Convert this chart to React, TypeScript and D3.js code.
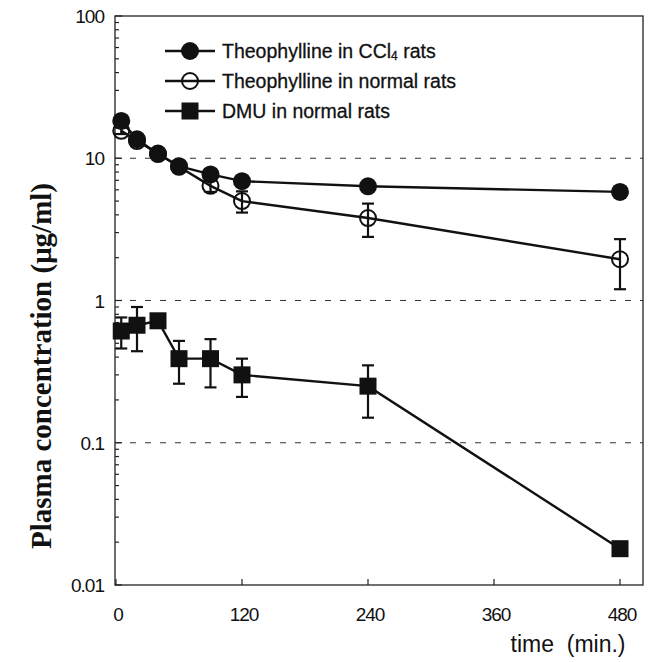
import React, { useEffect, useRef } from 'react';
import * as d3 from 'd3';

// sampling times (min)
const times = [5, 20, 40, 60, 90, 120, 240, 480];

// plasma concentrations (ug/ml)
const theoCCl4 = [18.3, 13.6, 10.7, 8.8, 7.7, 6.9, 6.35, 5.8];
const theoNormal = [15.6, 13.2, 10.8, 8.7, 6.4, 5.0, 3.8, 1.95];
const theoNormalSd = [0.8, 0.6, 0.5, 0.5, 0.6, 0.85, 1.0, 0.75];
const dmuNormal = [0.61, 0.67, 0.72, 0.39, 0.39, 0.3, 0.25, 0.018];
const dmuNormalSd = [0.15, 0.23, 0.05, 0.13, 0.145, 0.09, 0.1, 0.001];

const xTicks = [0, 120, 240, 360, 480];
const yTicks = [0.01, 0.1, 1, 10, 100];
const yTickLabels = ['0.01', '0.1', '1', '10', '100'];
const gridValues = [0.1, 1, 10];

const legendLabels = ['Theophylline in CCl', 'Theophylline in normal rats', 'DMU in normal rats'];

const W = 651;
const H = 662;
const SANS = '"Liberation Sans", Arial, sans-serif';
const SERIF = '"Liberation Serif", "Times New Roman", serif';

const PKChart = () => {
  const svgRef = useRef<SVGSVGElement | null>(null);

  useEffect(() => {
    const svg = d3.select(svgRef.current);
    svg.selectAll('*').remove();

    const left = 115;
    const right = 643;
    const x = d3.scaleLinear().domain([0, 480]).range([116, 620]);
    const y = d3.scaleLog().domain([0.01, 100]).range([585, 16]);
    const top = y(100);
    const bottom = y(0.01);

    // dashed grid lines
    svg.append('g')
      .selectAll('line')
      .data(gridValues)
      .join('line')
      .attr('x1', left)
      .attr('x2', right)
      .attr('y1', d => y(d))
      .attr('y2', d => y(d))
      .attr('stroke', '#333')
      .attr('stroke-width', 1.2)
      .attr('stroke-dasharray', '6,9');

    // frame
    svg.append('rect')
      .attr('x', left)
      .attr('y', top)
      .attr('width', right - left)
      .attr('height', bottom - top)
      .attr('fill', 'none')
      .attr('stroke', '#222')
      .attr('stroke-width', 1.3);

    // y ticks: majors + minors pointing inward
    const minor: number[] = [];
    for (let e = -2; e < 2; e++) {
      for (let k = 2; k <= 9; k++) minor.push(k * Math.pow(10, e));
    }
    const tickG = svg.append('g').attr('stroke', '#222').attr('stroke-width', 1.2);
    tickG.selectAll('line.minor')
      .data(minor)
      .join('line')
      .attr('class', 'minor')
      .attr('x1', left)
      .attr('x2', left + 4)
      .attr('y1', d => y(d))
      .attr('y2', d => y(d));
    tickG.selectAll('line.major')
      .data(yTicks)
      .join('line')
      .attr('class', 'major')
      .attr('x1', left)
      .attr('x2', left + 7)
      .attr('y1', d => y(d))
      .attr('y2', d => y(d));
    tickG.selectAll('line.xt')
      .data(xTicks)
      .join('line')
      .attr('class', 'xt')
      .attr('x1', d => x(d))
      .attr('x2', d => x(d))
      .attr('y1', bottom)
      .attr('y2', bottom - 6);

    // tick labels
    svg.append('g')
      .selectAll('text')
      .data(yTicks)
      .join('text')
      .attr('x', 104)
      .attr('y', d => y(d))
      .attr('dy', '0.38em')
      .attr('text-anchor', 'end')
      .attr('font-family', SANS)
      .attr('font-size', 19)
      .attr('letter-spacing', -1)
      .attr('fill', '#111')
      .text((d, i) => yTickLabels[i]);

    svg.append('g')
      .selectAll('text')
      .data(xTicks)
      .join('text')
      .attr('x', d => x(d) + 2)
      .attr('y', 621)
      .attr('text-anchor', 'middle')
      .attr('font-family', SANS)
      .attr('font-size', 19)
      .attr('letter-spacing', -1)
      .attr('fill', '#111')
      .text(d => String(d));

    // axis titles
    svg.append('text')
      .attr('transform', 'translate(51,366) rotate(-90)')
      .attr('text-anchor', 'middle')
      .attr('font-family', SERIF)
      .attr('font-weight', 'bold')
      .attr('font-size', 29)
      .attr('fill', '#111')
      .text('Plasma concentration (\u03bcg/ml)');

    svg.append('text')
      .attr('x', 568)
      .attr('y', 652)
      .attr('text-anchor', 'middle')
      .attr('font-family', SANS)
      .attr('font-size', 23)
      .attr('fill', '#111')
      .attr('xml:space', 'preserve')
      .text('time  (min.)');

    const line = d3.line<number>()
      .x((d, i) => x(times[i]))
      .y(d => y(d));

    const plot = svg.append('g');

    // connecting lines
    [dmuNormal, theoNormal, theoCCl4].forEach(series => {
      plot.append('path')
        .attr('d', line(series))
        .attr('fill', 'none')
        .attr('stroke', '#111')
        .attr('stroke-width', 2.4);
    });

    // error bars
    const errorBars = (vals: number[], sds: number[]) => {
      const g = plot.append('g').attr('stroke', '#111').attr('stroke-width', 2.2);
      vals.forEach((v, i) => {
        const cx = x(times[i]);
        const hi = y(v + sds[i]);
        const lo = y(Math.max(v - sds[i], 0.001));
        g.append('line').attr('x1', cx).attr('x2', cx).attr('y1', hi).attr('y2', lo);
        g.append('line').attr('x1', cx - 6).attr('x2', cx + 6).attr('y1', hi).attr('y2', hi);
        g.append('line').attr('x1', cx - 6).attr('x2', cx + 6).attr('y1', lo).attr('y2', lo);
      });
    };
    errorBars(dmuNormal, dmuNormalSd);
    errorBars(theoNormal, theoNormalSd);

    // markers
    plot.append('g')
      .selectAll('rect')
      .data(dmuNormal)
      .join('rect')
      .attr('x', (d, i) => x(times[i]) - 8.5)
      .attr('y', d => y(d) - 8.5)
      .attr('width', 17)
      .attr('height', 17)
      .attr('fill', '#111');

    plot.append('g')
      .selectAll('circle')
      .data(theoNormal)
      .join('circle')
      .attr('cx', (d, i) => x(times[i]))
      .attr('cy', d => y(d))
      .attr('r', 8)
      .attr('fill', 'none')
      .attr('stroke', '#111')
      .attr('stroke-width', 2);

    plot.append('g')
      .selectAll('circle')
      .data(theoCCl4)
      .join('circle')
      .attr('cx', (d, i) => x(times[i]))
      .attr('cy', d => y(d))
      .attr('r', 9)
      .attr('fill', '#111');

    // legend
    const legend = svg.append('g');
    const rows = [51, 81, 111];
    rows.forEach((ry, i) => {
      legend.append('line')
        .attr('x1', 165).attr('x2', 215)
        .attr('y1', ry).attr('y2', ry)
        .attr('stroke', '#111').attr('stroke-width', 2.4);
      if (i === 0) {
        legend.append('circle').attr('cx', 190).attr('cy', ry).attr('r', 9).attr('fill', '#111');
      } else if (i === 1) {
        legend.append('circle').attr('cx', 190).attr('cy', ry).attr('r', 8)
          .attr('fill', 'none').attr('stroke', '#111').attr('stroke-width', 2);
      } else {
        legend.append('rect').attr('x', 181.5).attr('y', ry - 8.5).attr('width', 17).attr('height', 17).attr('fill', '#111');
      }
      const t = legend.append('text')
        .attr('x', 222)
        .attr('y', ry + 7)
        .attr('font-family', SANS)
        .attr('font-size', 19.5)
        .attr('fill', '#111')
        .attr('stroke', '#111')
        .attr('stroke-width', 0.3)
        .text(legendLabels[i]);
      if (i === 0) {
        t.append('tspan').attr('font-size', 12).attr('dy', 2).text('4');
        t.append('tspan').attr('dy', -2).text(' rats');
      }
    });
  }, []);

  return (
    <svg
      ref={svgRef}
      width={W}
      height={H}
      style={{ position: 'absolute', left: 0, top: 0, background: '#fff' }}
    />
  );
};

export default function App() {
  return <PKChart />;
}
